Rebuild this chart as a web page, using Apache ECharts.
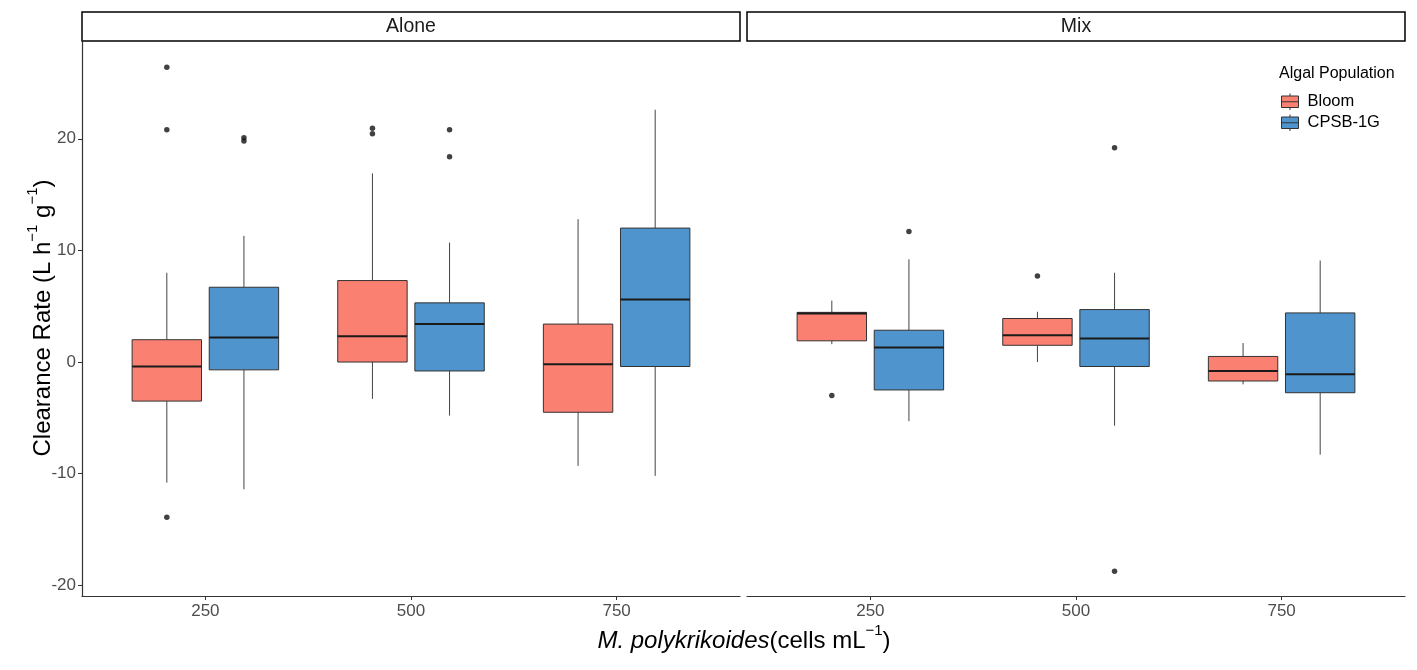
<!DOCTYPE html>
<html>
<head>
<meta charset="utf-8">
<script src="https://cdn.jsdelivr.net/npm/echarts@6/dist/echarts.min.js"></script>
<style>
  html, body { margin: 0; padding: 0; background: #fff; }
  #chart { width: 1417px; height: 670px; }
</style>
</head>
<body>
<div id="chart"></div>
<script>
// facets, groups, x categories
const panels = ['Alone', 'Mix'];
const groups = ['Bloom', 'CPSB-1G'];
const doseLabels = ['250', '500', '750'];
const yTicks = [-20, -10, 0, 10, 20];

// box stats per dose: [min whisker, Q1, median, Q3, max whisker]
const aloneBloom = [[-10.8, -3.5, -0.4, 2.0, 8.0], [-3.3, 0.0, 2.3, 7.3, 16.9], [-9.3, -4.5, -0.2, 3.4, 12.8]];
const aloneCpsb  = [[-11.4, -0.7, 2.2, 6.7, 11.3], [-4.8, -0.8, 3.4, 5.3, 10.7], [-10.2, -0.4, 5.6, 12.0, 22.6]];
const mixBloom   = [[1.6, 1.9, 4.35, 4.45, 5.5], [0.0, 1.5, 2.4, 3.9, 4.5], [-2.0, -1.7, -0.8, 0.5, 1.7]];
const mixCpsb    = [[-5.3, -2.5, 1.3, 2.85, 9.2], [-5.7, -0.4, 2.1, 4.7, 8.0], [-8.3, -2.75, -1.1, 4.4, 9.1]];

// outliers: [dose index, value]
const aloneBloomOut = [[0, 26.4], [0, 20.8], [0, -13.9], [1, 20.95], [1, 20.45]];
const aloneCpsbOut  = [[0, 20.1], [0, 19.8], [1, 20.8], [1, 18.4]];
const mixBloomOut   = [[0, -3.0], [1, 7.7]];
const mixCpsbOut    = [[0, 11.7], [1, 19.2], [1, -18.75]];

const colors = ['#FA8072', '#4F94CD'];
const dodge = [-0.1875, 0.1875];
const boxWidth = 0.3375;
const font = 'Liberation Sans, Arial, sans-serif';

function renderBox(params, api) {
  const x = api.value(0);
  const lo = api.coord([x, api.value(1)]);
  const q1 = api.coord([x, api.value(2)]);
  const md = api.coord([x, api.value(3)]);
  const q3 = api.coord([x, api.value(4)]);
  const hi = api.coord([x, api.value(5)]);
  const w = api.size([boxWidth, 0])[0];
  const cx = md[0];
  const wl = { stroke: '#444', lineWidth: 1 };
  return {
    type: 'group',
    children: [
      { type: 'line', shape: { x1: cx, y1: q3[1], x2: cx, y2: hi[1] }, style: wl },
      { type: 'line', shape: { x1: cx, y1: q1[1], x2: cx, y2: lo[1] }, style: wl },
      { type: 'rect', shape: { x: cx - w / 2, y: q3[1], width: w, height: q1[1] - q3[1] },
        style: { fill: api.visual('color'), stroke: '#333', lineWidth: 1 } },
      { type: 'line', shape: { x1: cx - w / 2, y1: md[1], x2: cx + w / 2, y2: md[1] },
        style: { stroke: '#1a1a1a', lineWidth: 2 } }
    ]
  };
}

function boxSeries(name, gi, stats, idx) {
  return {
    name: name, type: 'custom', xAxisIndex: idx, yAxisIndex: idx,
    itemStyle: { color: colors[gi] },
    renderItem: renderBox,
    encode: { x: 0, y: [1, 2, 3, 4, 5] },
    data: stats.map((s, i) => [i + 1 + dodge[gi]].concat(s))
  };
}

function outSeries(gi, pts, idx) {
  return {
    name: groups[gi] + ' outliers', type: 'scatter', xAxisIndex: idx, yAxisIndex: idx,
    symbolSize: 5.5, itemStyle: { color: '#111' }, silent: true,
    data: pts.map(p => [p[0] + 1 + dodge[gi], p[1]])
  };
}

const grids = [
  { left: 82, top: 41, width: 658, height: 555 },
  { left: 747, top: 41, width: 658, height: 555 }
];

const xAxes = grids.map((g, i) => ({
  type: 'value', gridIndex: i, min: 0.4, max: 3.6,
  axisLine: { show: true, onZero: false, lineStyle: { color: '#333', width: 1.2 } },
  axisTick: { show: true, customValues: [1, 2, 3], length: 4, lineStyle: { color: '#333' } },
  axisLabel: { customValues: [1, 2, 3], formatter: v => doseLabels[Math.round(v) - 1],
    color: '#4d4d4d', fontSize: 17, fontFamily: font, margin: 7 },
  splitLine: { show: false }
}));

const yAxes = grids.map((g, i) => ({
  type: 'value', gridIndex: i, min: -20.96, max: 28.76,
  axisLine: { show: i === 0, onZero: false, lineStyle: { color: '#333', width: 1.2 } },
  axisTick: { show: i === 0, customValues: yTicks, length: 4, lineStyle: { color: '#333' } },
  axisLabel: { show: i === 0, customValues: yTicks, color: '#4d4d4d', fontSize: 17, fontFamily: font, margin: 6 },
  splitLine: { show: false }
}));

const series = [
  boxSeries(groups[0], 0, aloneBloom, 0),
  boxSeries(groups[1], 1, aloneCpsb, 0),
  boxSeries(groups[0], 0, mixBloom, 1),
  boxSeries(groups[1], 1, mixCpsb, 1),
  outSeries(0, aloneBloomOut, 0),
  outSeries(1, aloneCpsbOut, 0),
  outSeries(0, mixBloomOut, 1),
  outSeries(1, mixCpsbOut, 1)
];

// facet strips
const strips = [];
grids.forEach((g, i) => {
  strips.push({ type: 'rect', shape: { x: g.left, y: 12, width: g.width, height: 29 },
    style: { fill: '#fff', stroke: '#000', lineWidth: 1.5 } });
  strips.push({ type: 'text', x: g.left + g.width / 2, y: 27,
    style: { text: panels[i], fontSize: 19.5, fontFamily: font, fill: '#1a1a1a', align: 'center', verticalAlign: 'middle' } });
});

const supRich = {
  a: { fontSize: 24, fontFamily: font, fill: '#000', lineHeight: 30, verticalAlign: 'bottom' },
  i: { fontSize: 24, fontFamily: font, fill: '#000', fontStyle: 'italic', lineHeight: 30, verticalAlign: 'bottom' },
  s: { fontSize: 15, fontFamily: font, fill: '#000', lineHeight: 30, verticalAlign: 'top' }
};

const legendKey = 'path://M0,2.5L17,2.5L17,14L0,14Z M0,8.25L17,8.25 M8.5,0L8.5,2.5 M8.5,14L8.5,16.5';

const chart = echarts.init(document.getElementById('chart'));
chart.setOption({
  backgroundColor: '#fff',
  animation: false,
  grid: grids,
  xAxis: xAxes,
  yAxis: yAxes,
  legend: {
    left: 1281, top: 93, orient: 'vertical', itemGap: 3.5, padding: 0,
    itemWidth: 17, itemHeight: 16.5,
    data: groups.map(n => ({ name: n, icon: legendKey })),
    itemStyle: { borderColor: '#333', borderWidth: 1 },
    textStyle: { fontSize: 16.5, fontFamily: font, color: '#000', padding: [0, 0, 0, 4] },
    selectedMode: false
  },
  graphic: strips.concat([
    { type: 'text', x: 1279, y: 74,
      style: { text: 'Algal Population', fontSize: 16, fontFamily: font, fill: '#000', align: 'left', verticalAlign: 'middle' } },
    { type: 'text', x: 40, y: 318, rotation: Math.PI / 2,
      style: { text: '{a|Clearance Rate (L h}{s|−1}{a| g}{s|−1}{a|)}', rich: supRich, align: 'center', verticalAlign: 'middle' } },
    { type: 'text', x: 744, y: 638,
      style: { text: '{i|M. polykrikoides}{a|(cells mL}{s|−1}{a|)}', rich: supRich, align: 'center', verticalAlign: 'middle' } }
  ]),
  series: series
});
</script>
</body>
</html>
